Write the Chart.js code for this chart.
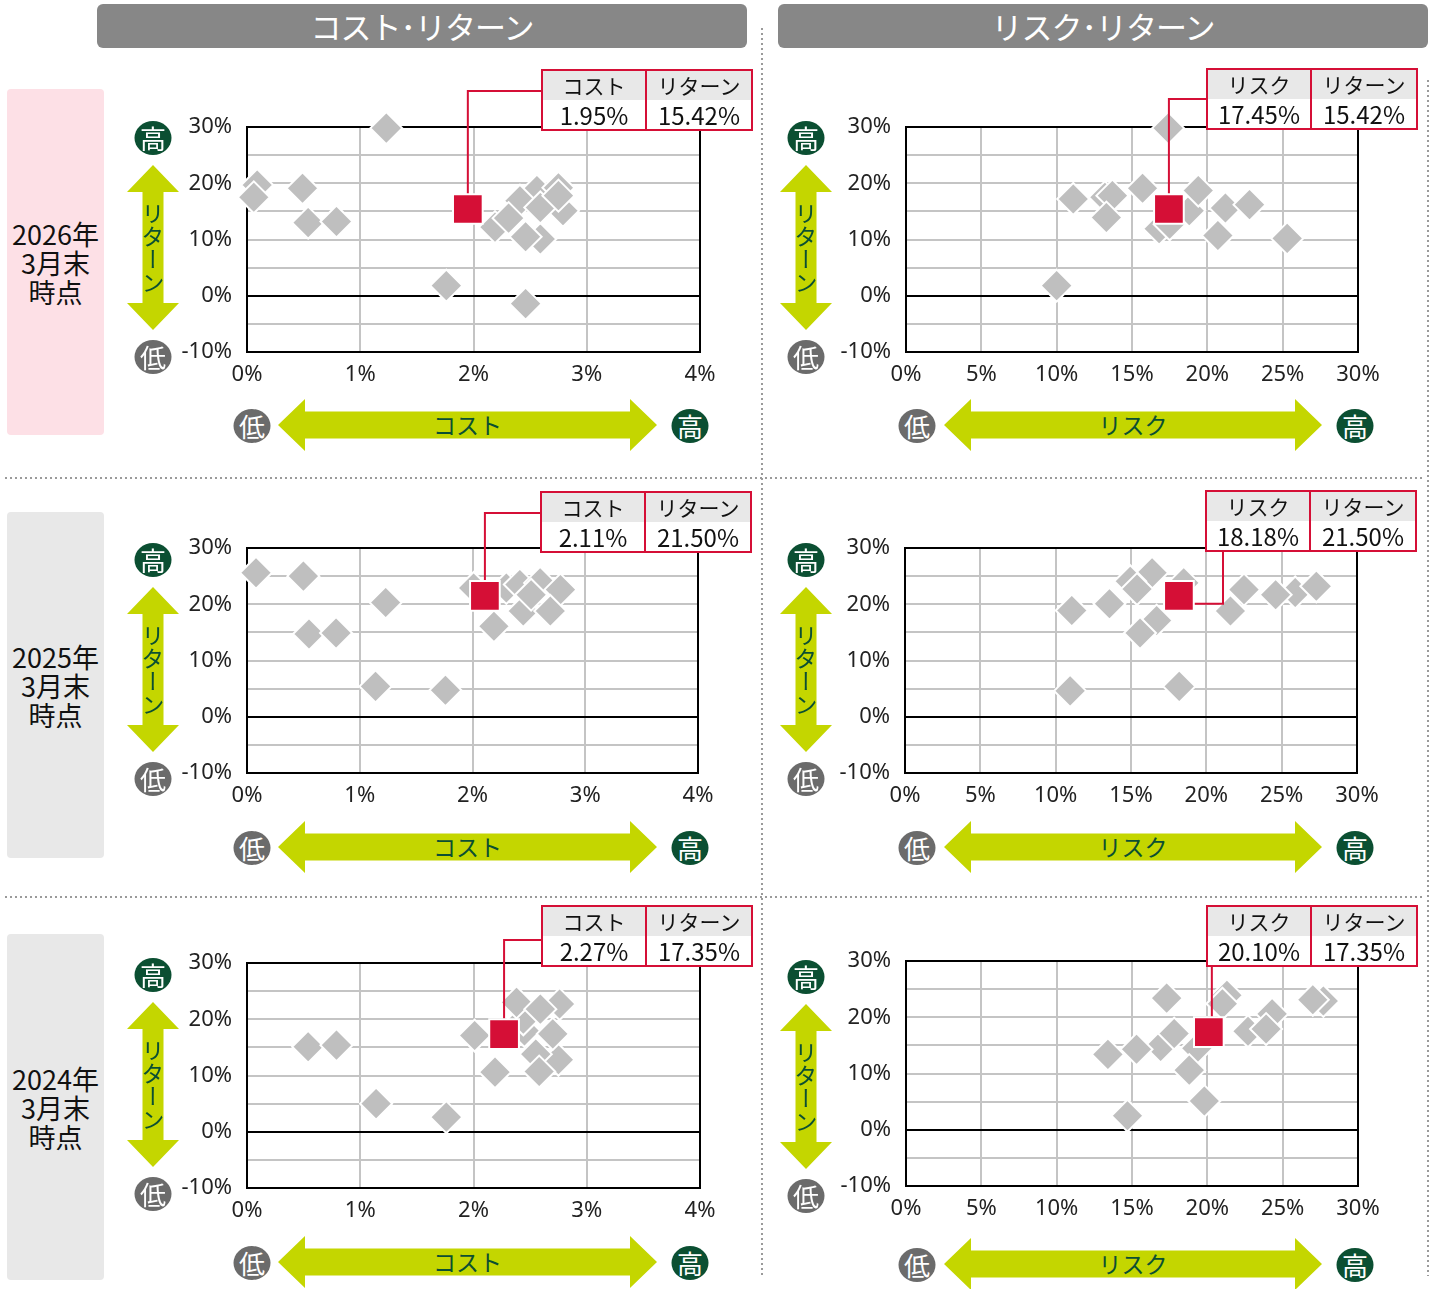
<!DOCTYPE html>
<html lang="ja">
<head>
<meta charset="utf-8">
<script src="https://cdn.jsdelivr.net/npm/chart.js@4.4.1/dist/chart.umd.min.js"></script>
<style>
  body { margin: 0; width: 1436px; height: 1289px; position: relative; background: #fff; overflow: hidden;
         font-family: "Noto Sans CJK JP", "Noto Sans", sans-serif; }
  svg.deco { position: absolute; left: 0; top: 0; z-index: 0; }
  canvas { position: absolute; z-index: 1; }
  .lbl { position: absolute; display: flex; align-items: center; justify-content: center; white-space: nowrap; z-index: 2; }
  .vlbl { position: absolute; display: flex; align-items: center; justify-content: center; writing-mode: vertical-rl; z-index: 2; }
  .head { position: absolute; top: 4px; height: 44px; width: 650px; background: #878787; border-radius: 6px;
          color: #fff; font-size: 31px; line-height: 44px; text-align: center; letter-spacing: -1px; }
  .row { position: absolute; left: 7px; width: 97px; height: 346px; border-radius: 4px; display: flex;
         align-items: center; justify-content: center; text-align: center; font-size: 27px; line-height: 29px; color: #111; }
  .box { position: absolute; width: 212px; height: 62px; box-sizing: border-box; border: 2px solid #d50f36;
         background: #fff; display: grid; grid-template-columns: 1fr 1fr; grid-template-rows: 29px 29px; z-index: 3; }
  .box div { text-align: center; color: #111; }
  .box .h { background: #e8e8e8; font-size: 21px; line-height: 29px; }
  .box .v { font-size: 24px; line-height: 29px; }
  .box .l { border-right: 2px solid #d50f36; }
</style>
</head>
<body>
<div class="head" style="left:97px">コスト･リターン</div>
<div class="head" style="left:778px">リスク･リターン</div>
<svg class="deco" id="deco" width="1436" height="1289"></svg>

<script>
// 基準日
const periodYears = ["2026年", "2025年", "2024年"];

// ファンド（赤い四角）
const fundCost = [1.95, 2.11, 2.27];
const fundRisk = [17.45, 18.18, 20.10];
const fundReturn = [15.42, 21.50, 17.35];

// 目盛
const yTickLabels = [-10, 0, 10, 20, 30];
const costTicks = [0, 1, 2, 3, 4];
const riskTicks = [0, 5, 10, 15, 20, 25, 30];

// 類似ファンド（グレーのひし形） 2026年3月末
const costX2026 = [0.09, 2.19, 2.59, 2.56, 2.41, 2.75, 2.79, 0.54, 1.23, 0.06, 0.49, 0.79, 1.76, 2.46, 2.31, 2.46, 2.59, 2.75];
const costY2026 = [19.7, 12.2, 10.1, 18.7, 16.9, 19.2, 15.1, 13.0, 29.8, 17.5, 19.1, 13.2, 1.8, -1.4, 13.8, 10.5, 15.7, 17.8];
const riskX2026 = [18.8, 16.8, 17.5, 13.2, 17.4, 11.1, 13.7, 13.3, 15.7, 19.4, 21.2, 22.8, 20.7, 25.3, 10.0];
const riskY2026 = [15.1, 11.9, 12.7, 17.5, 29.8, 17.2, 17.8, 13.9, 19.1, 18.7, 15.6, 16.2, 10.7, 10.2, 1.8];

// 2025年3月末
const costX2025 = [2.01, 2.30, 2.42, 2.60, 2.45, 0.55, 0.08, 0.50, 1.23, 0.79, 1.14, 1.76, 2.19, 2.78, 2.52, 2.69];
const costY2025 = [22.9, 22.9, 23.5, 23.8, 18.8, 14.7, 25.6, 25.0, 20.3, 14.9, 5.4, 4.7, 16.1, 22.6, 21.7, 18.8];
const riskX2025 = [16.4, 14.95, 16.7, 18.5, 25.9, 11.07, 13.57, 15.4, 15.6, 21.6, 22.5, 24.6, 27.3, 10.96, 18.2];
const riskY2025 = [25.6, 24.1, 17.1, 23.8, 22.1, 18.9, 20.1, 22.7, 14.9, 18.8, 22.6, 21.7, 23.2, 4.6, 5.4];

// 2024年3月末
const costX2024 = [2.45, 2.44, 2.75, 0.54, 2.38, 0.79, 1.14, 1.76, 2.01, 2.19, 2.76, 2.59, 2.55, 2.70, 2.58];
const costY2024 = [17.9, 20.0, 12.8, 15.1, 23.0, 15.4, 5.0, 2.6, 17.1, 10.6, 22.7, 21.8, 13.8, 17.4, 10.7];
const riskX2024 = [21.3, 27.7, 16.9, 19.3, 22.7, 24.3, 17.3, 21.0, 23.9, 27.0, 17.8, 13.4, 15.3, 18.8, 19.8, 14.7];
const riskY2024 = [23.9, 22.9, 14.8, 14.5, 17.5, 20.6, 23.4, 22.4, 17.9, 23.1, 17.1, 13.4, 14.3, 10.6, 5.1, 2.5];

const RED = "#d50f36";
const GRID = "#c4c4c4";
const ARROW = "#c4d600";
const DARK = "#0b4f32";
const LOWC = "#6b6b6b";

Chart.defaults.font.family = '"Noto Sans", "Noto Sans CJK JP", sans-serif';
Chart.defaults.font.size = 22;
Chart.defaults.color = "#222";

// パネル配置（プロット領域・吹き出しの位置）
const panels = [
  { xs: costX2026, ys: costY2026, fx: fundCost[0], fy: fundReturn[0], ticks: costTicks, name: "コスト",
    col: 0, L: 247, R: 700, T: 127, B: 352, bx: 541, by: 69, link: "upRight", ly: 91 },
  { xs: riskX2026, ys: riskY2026, fx: fundRisk[0], fy: fundReturn[0], ticks: riskTicks, name: "リスク",
    col: 1, L: 906, R: 1358, T: 127, B: 352, bx: 1206, by: 68, link: "upRight", ly: 99 },
  { xs: costX2025, ys: costY2025, fx: fundCost[1], fy: fundReturn[1], ticks: costTicks, name: "コスト",
    col: 0, L: 247, R: 698, T: 548, B: 773, bx: 540, by: 491, link: "upRight", ly: 513 },
  { xs: riskX2025, ys: riskY2025, fx: fundRisk[1], fy: fundReturn[1], ticks: riskTicks, name: "リスク",
    col: 1, L: 905, R: 1357, T: 548, B: 773, bx: 1205, by: 490, link: "rightUp", lx: 1223 },
  { xs: costX2024, ys: costY2024, fx: fundCost[2], fy: fundReturn[2], ticks: costTicks, name: "コスト",
    col: 0, L: 247, R: 700, T: 963, B: 1188, bx: 541, by: 905, link: "upRight", ly: 940 },
  { xs: riskX2024, ys: riskY2024, fx: fundRisk[2], fy: fundReturn[2], ticks: riskTicks, name: "リスク",
    col: 1, L: 906, R: 1358, T: 961, B: 1186, bx: 1206, by: 905, link: "up" },
];

const framePlugin = {
  id: "frame",
  beforeDatasetsDraw(chart) {
    const { ctx, chartArea: a, scales } = chart;
    ctx.save();
    ctx.strokeStyle = "#000";
    ctx.lineWidth = 2;
    ctx.strokeRect(a.left, a.top, a.right - a.left, a.bottom - a.top);
    const y0 = Math.round(scales.y.getPixelForValue(0));
    ctx.beginPath();
    ctx.moveTo(a.left, y0);
    ctx.lineTo(a.right, y0);
    ctx.stroke();
    ctx.restore();
  },
  // 赤い四角の直前に引き出し線を描く
  beforeDatasetDraw(chart, args, opts) {
    if (args.index !== 0) return;
    const p = opts.panel;
    const pt = chart.getDatasetMeta(0).data[0];
    const ox = opts.ox, oy = opts.oy;
    const ctx = chart.ctx;
    ctx.save();
    ctx.strokeStyle = RED;
    ctx.lineWidth = 2;
    ctx.beginPath();
    if (p.link === "upRight") {
      ctx.moveTo(pt.x, pt.y);
      ctx.lineTo(pt.x, p.ly - oy);
      ctx.lineTo(p.bx - ox, p.ly - oy);
    } else if (p.link === "rightUp") {
      ctx.moveTo(pt.x, pt.y + 8);
      ctx.lineTo(p.lx - ox, pt.y + 8);
      ctx.lineTo(p.lx - ox, p.by + 62 - oy);
    } else {
      ctx.moveTo(pt.x + 3, pt.y);
      ctx.lineTo(pt.x + 3, p.by + 62 - oy);
    }
    ctx.stroke();
    ctx.restore();
  },
};

function makeChart(p) {
  const cl = p.L - 85;
  const ct = p.by - 4;
  const cr = p.col === 0 ? 762 : 1426;
  const cb = p.B + 42;
  const canvas = document.createElement("canvas");
  canvas.width = cr - cl;
  canvas.height = cb - ct;
  canvas.style.left = cl + "px";
  canvas.style.top = ct + "px";
  document.body.appendChild(canvas);

  const peers = p.xs.map((x, i) => ({ x: x, y: p.ys[i] }));
  const xmax = p.ticks[p.ticks.length - 1];

  new Chart(canvas, {
    type: "scatter",
    data: {
      datasets: [
        {
          data: [{ x: p.fx, y: p.fy }],
          pointStyle: "rect",
          pointRadius: 21,
          pointBackgroundColor: RED,
          pointBorderColor: "#fff",
          pointBorderWidth: 2,
          clip: false,
        },
        {
          data: peers,
          pointStyle: "rectRot",
          pointRadius: 16,
          pointBackgroundColor: "#bfbfbf",
          pointBorderColor: "#fff",
          pointBorderWidth: 2,
          clip: false,
        },
      ],
    },
    options: {
      responsive: false,
      animation: false,
      events: [],
      layout: { padding: { left: 0, top: p.T - ct, right: cr - p.R, bottom: 0 } },
      plugins: {
        legend: { display: false },
        tooltip: { enabled: false },
        frame: { panel: p, ox: cl, oy: ct },
      },
      scales: {
        x: {
          type: "linear",
          min: 0,
          max: xmax,
          afterBuildTicks: (s) => {
            s.ticks = p.ticks.map((v) => ({ value: v }));
          },
          afterFit: (s) => {
            s.height = cb - p.B;
          },
          grid: { color: GRID, lineWidth: 2, drawTicks: false },
          border: { display: false },
          ticks: { padding: 10, maxRotation: 0, autoSkip: false, callback: (v) => v + "%" },
        },
        y: {
          min: -10,
          max: 30,
          afterFit: (s) => {
            s.width = 85;
          },
          grid: { color: GRID, lineWidth: 2, drawTicks: false },
          border: { display: false },
          ticks: {
            stepSize: 5,
            padding: 15,
            autoSkip: false,
            callback: (v) => (yTickLabels.includes(v) ? v + "%" : ""),
          },
        },
      },
    },
    plugins: [framePlugin],
  });

  // 吹き出しの表
  const box = document.createElement("div");
  box.className = "box";
  box.style.left = p.bx + "px";
  box.style.top = p.by + "px";
  box.innerHTML =
    '<div class="h l">' + p.name + '</div><div class="h">リターン</div>' +
    '<div class="v l">' + p.fx.toFixed(2) + '%</div><div class="v">' + p.fy.toFixed(2) + "%</div>";
  document.body.appendChild(box);
}

// ---- 装飾 ----
const svg = document.getElementById("deco");
const NS = "http://www.w3.org/2000/svg";
function shape(tag, attrs) {
  const el = document.createElementNS(NS, tag);
  for (const k in attrs) el.setAttribute(k, attrs[k]);
  svg.appendChild(el);
  return el;
}
function label(txt, cx, cy, size, color, extra) {
  const d = document.createElement("div");
  d.className = "lbl";
  d.textContent = txt;
  d.style.cssText =
    "left:" + (cx - 150) + "px;top:" + (cy - size) + "px;width:300px;height:" + size * 2 +
    "px;font-size:" + size + "px;color:" + color + ";" + (extra || "");
  document.body.appendChild(d);
}
function circle(txt, cx, cy, fill) {
  shape("ellipse", { cx: cx, cy: cy, rx: 18.5, ry: 17, fill: fill });
  label(txt, cx, cy - 1, 26, "#fff");
}
function hArrow(x1, x2, cy, txt) {
  const hl = 27, hh = 26, sh = 13.5;
  const pts = [
    [x1, cy], [x1 + hl, cy - hh], [x1 + hl, cy - sh], [x2 - hl, cy - sh], [x2 - hl, cy - hh],
    [x2, cy], [x2 - hl, cy + hh], [x2 - hl, cy + sh], [x1 + hl, cy + sh], [x1 + hl, cy + hh],
  ];
  shape("polygon", { points: pts.map((q) => q.join(",")).join(" "), fill: ARROW });
  label(txt, (x1 + x2) / 2, cy - 1, 23, DARK);
}
function vArrow(cx, y1, y2, txt) {
  const hl = 27, hw = 26, sw = 10.5;
  const pts = [
    [cx, y1], [cx + hw, y1 + hl], [cx + sw, y1 + hl], [cx + sw, y2 - hl], [cx + hw, y2 - hl],
    [cx, y2], [cx - hw, y2 - hl], [cx - sw, y2 - hl], [cx - sw, y1 + hl], [cx - hw, y1 + hl],
  ];
  shape("polygon", { points: pts.map((q) => q.join(",")).join(" "), fill: ARROW });
  const d = document.createElement("div");
  d.className = "vlbl";
  d.textContent = txt;
  d.style.cssText =
    "left:" + (cx - 20) + "px;top:" + ((y1 + y2) / 2 - 60) + "px;width:40px;height:120px;font-size:23px;color:" + DARK + ";";
  document.body.appendChild(d);
}

// 区切りの点線
const dots = { stroke: "#9a9a9a", "stroke-width": 2, "stroke-dasharray": "2 3" };
shape("line", Object.assign({ x1: 5, y1: 478, x2: 1422, y2: 478 }, dots));
shape("line", Object.assign({ x1: 5, y1: 897, x2: 1422, y2: 897 }, dots));
shape("line", Object.assign({ x1: 762, y1: 28, x2: 762, y2: 1276 }, dots));
shape("line", Object.assign({ x1: 1428, y1: 80, x2: 1428, y2: 1276 }, dots));

const rowOff = [0, 422, 837];
const rowTop = [89, 512, 934];
const rowBg = ["#fde0e6", "#e8e8e8", "#e8e8e8"];
rowOff.forEach((off, r) => {
  const d = document.createElement("div");
  d.className = "row";
  d.style.top = rowTop[r] + "px";
  d.style.background = rowBg[r];
  d.innerHTML = periodYears[r] + "<br>3月末<br>時点";
  document.body.insertBefore(d, svg);

  const cols = [
    { vx: 153, lo: 252, x1: 278, x2: 657, hi: 690, name: "コスト" },
    { vx: 806, lo: 917, x1: 944, x2: 1322, hi: 1355, name: "リスク" },
  ];
  cols.forEach((c, ci) => {
    const o = off + (ci === 1 && r === 2 ? 2 : 0);
    circle("高", c.vx, 138 + o, DARK);
    vArrow(c.vx, 165 + o, 330 + o, "リターン");
    circle("低", c.vx, 357 + o, LOWC);
    circle("低", c.lo, 426 + o, LOWC);
    hArrow(c.x1, c.x2, 425 + o, c.name);
    circle("高", c.hi, 426 + o, DARK);
  });
});

panels.forEach(makeChart);
</script>
</body>
</html>
